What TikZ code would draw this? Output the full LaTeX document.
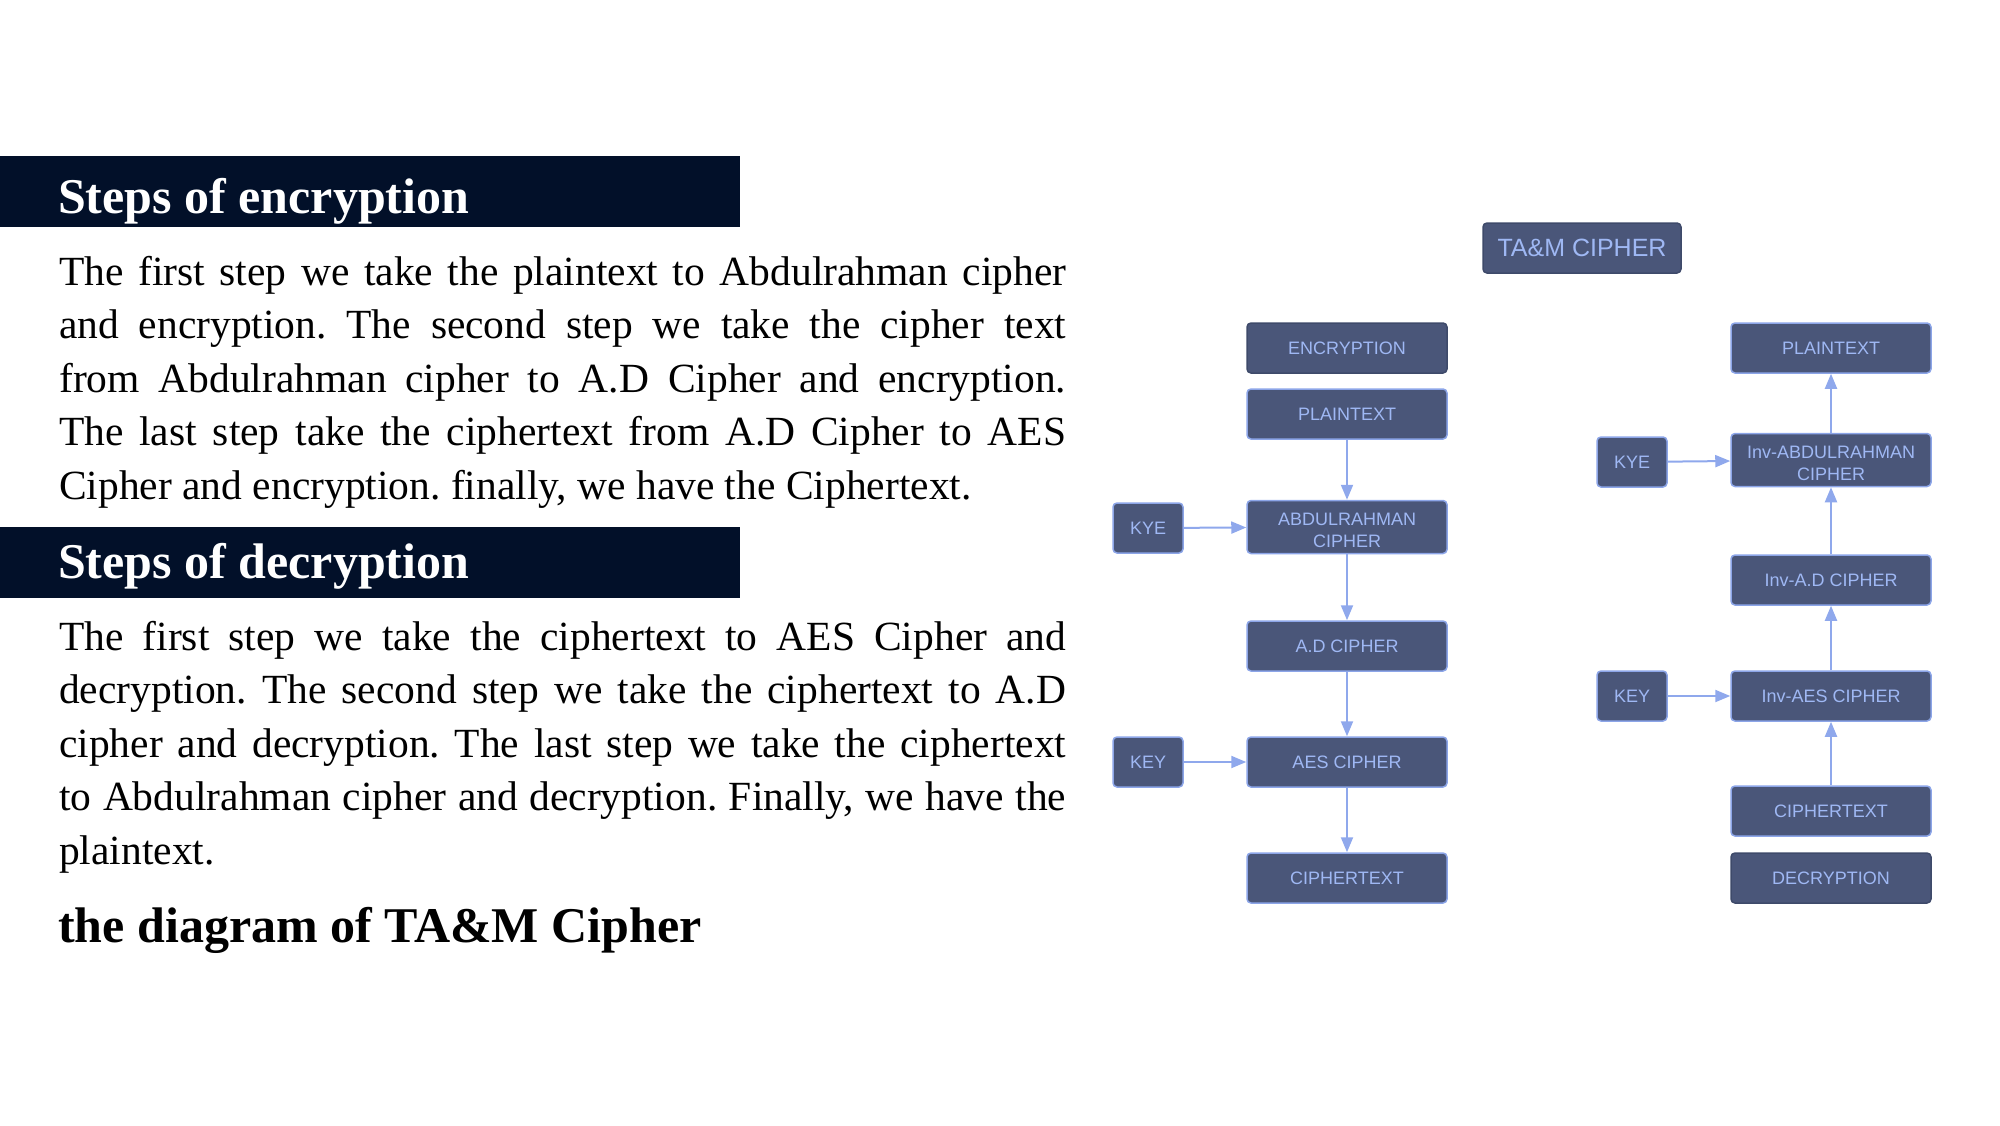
\documentclass[tikz,border=0pt]{standalone}
\usepackage{fontspec}
\setmainfont{Liberation Serif}
\setsansfont{Liberation Sans}
\usetikzlibrary{arrows.meta}
\definecolor{barc}{HTML}{021029}
\definecolor{boxfill}{HTML}{4A5679}
\definecolor{boxline}{HTML}{8CA5E8}
\definecolor{boxdark}{HTML}{3E4A6A}
\definecolor{boxtext}{HTML}{9FB8F4}
\definecolor{arrowc}{HTML}{8FA8EC}
\tikzset{
  box/.style={rectangle, rounded corners=4bp, fill=boxfill, draw=boxline, line width=1.5bp,
    text=boxtext, font=\sffamily\fontsize{18bp}{22bp}\selectfont, align=center,
    minimum width=200bp, minimum height=50bp, inner sep=0pt},
  darkbox/.style={box, draw=boxdark},
  keybox/.style={box, minimum width=70bp},
  arr/.style={draw=arrowc, line width=2bp, -{Triangle[length=15bp,width=12bp]}},
  heading/.style={anchor=base west, inner sep=0pt, text=white, font=\bfseries\fontsize{50bp}{60bp}\selectfont},
  bodytext/.style={anchor=base west, inner sep=0pt, text=black}
}
\newcommand{\bodypar}[1]{\parbox[t]{1007bp}{\fontsize{41.5bp}{53.5bp}\selectfont\frenchspacing\parindent=0pt\tolerance=10000\hyphenpenalty=10000\exhyphenpenalty=10000 #1}}
\begin{document}
\begin{tikzpicture}[x=1bp,y=-1bp]
\path[use as bounding box] (0,0) rectangle (2000,1125);
% headings
\fill[barc] (0,156) rectangle (740,227);
\fill[barc] (0,527) rectangle (740,598);
\node[heading] (h1) at (58,213) {Steps of encryption};
\node[heading] (h2) at (58,578) {Steps of decryption};
\node[bodytext] (t1) at (59,285) {\bodypar{The first step we take the plaintext to Abdulrahman cipher\linebreak and encryption. The second step we take the cipher text\linebreak from Abdulrahman cipher to A.D Cipher and encryption.\linebreak The last step take the ciphertext from A.D Cipher to AES\linebreak Cipher and encryption. finally, we have the Ciphertext.}};
\node[bodytext] (t2) at (59,650) {\bodypar{The first step we take the ciphertext to AES Cipher and\linebreak decryption. The second step we take the ciphertext to A.D\linebreak cipher and decryption. The last step we take the ciphertext\linebreak to Abdulrahman cipher and decryption. Finally, we have the\linebreak plaintext.}};
\node[heading, text=black] (t3) at (58,942) {the diagram of TA\&M Cipher};
% diagram
\node[darkbox, minimum width=198bp, font=\sffamily\fontsize{25bp}{30bp}\selectfont] (tam) at (1582,248) {TA\&M CIPHER};
% left column
\node[darkbox] (enc) at (1347,348) {ENCRYPTION};
\node[box] (pt1) at (1347,414) {PLAINTEXT};
\node[box, minimum height=53bp] (abd) at (1347,527) {\rule{0pt}{20bp}ABDULRAHMAN\\CIPHER};
\node[box] (ad) at (1347,646) {A.D CIPHER};
\node[box] (aes) at (1347,762) {AES CIPHER};
\node[box] (ct1) at (1347,878) {CIPHERTEXT};
\node[keybox] (kye1) at (1148,528) {KYE};
\node[keybox] (key1) at (1148,762) {KEY};
% right column
\node[box] (pt2) at (1831,348) {PLAINTEXT};
\node[box, minimum height=53bp] (iabd) at (1831,460) {\rule{0pt}{20bp}Inv-ABDULRAHMAN\\CIPHER};
\node[box] (iad) at (1831,580) {Inv-A.D CIPHER};
\node[box] (iaes) at (1831,696) {Inv-AES CIPHER};
\node[box] (ct2) at (1831,811) {CIPHERTEXT};
\node[darkbox] (dec) at (1831,878) {DECRYPTION};
\node[keybox] (kye2) at (1632,462) {KYE};
\node[keybox] (key2) at (1632,696) {KEY};
% connectors
\draw[arr] (pt1) -- (abd);
\draw[arr] (abd) -- (ad);
\draw[arr] (ad) -- (aes);
\draw[arr] (aes) -- (ct1);
\draw[arr] (kye1) -- (abd);
\draw[arr] (key1) -- (aes);
\draw[arr] (ct2) -- (iaes);
\draw[arr] (iaes) -- (iad);
\draw[arr] (iad) -- (iabd);
\draw[arr] (iabd) -- (pt2);
\draw[arr] (kye2) -- (iabd);
\draw[arr] (key2) -- (iaes);
\end{tikzpicture}
\end{document}
